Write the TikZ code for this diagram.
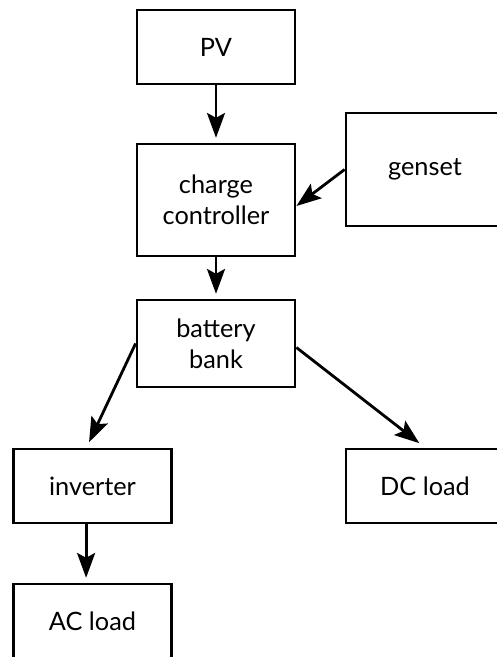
\documentclass[tikz,border=0pt]{standalone}
\usepackage{fontspec}
\setmainfont{Lato}
\usetikzlibrary{arrows.meta}

\begin{document}
\begin{tikzpicture}[
				block/.style={rectangle, draw, line width=2pt, minimum width=3.95cm, align=center, font=\fontsize{18}{22}\selectfont},
				flow/.style={line width=2pt, -{Stealth[length=0.62cm, width=0.45cm, inset=0.12cm]}}
				]
				
				\useasboundingbox (0,0) rectangle (12.4,-16.425);
				
				\node[block, minimum height=1.85cm] (pv) at (5.4, -1.175) {PV};
				\node[block, minimum height=2.8cm] (cc) at (5.4, -5.0) {charge\\controller};
				\node[block, minimum height=2.825cm] (genset) at (10.625, -4.2375) {genset};
				\node[block, minimum height=2.175cm] (bb) at (5.4, -8.5875) {battery\\bank};
				
				\node[block, minimum height=1.85cm] (inv) at (2.3125, -12.15) {inverter};
				\node[block, minimum height=1.85cm] (dc) at (10.625, -12.15) {DC load};
				\node[block, minimum height=1.85cm] (ac) at (2.3125, -15.525) {AC load};
				
				\foreach \a/\b in {pv/cc, cc/bb} {
					\draw[flow, shorten >=0.12cm] (\a) -- (\b);
				}
				\draw[flow] (genset.west) -- ([yshift=-0.15cm]cc.east);
				\draw[flow, shorten >=0.15cm] (bb.west) -- ([xshift=-0.15cm]inv.north);
				\draw[flow, shorten >=0.18cm] ([yshift=-0.1cm]bb.east) -- (dc.north);
				\draw[flow, shorten >=0.12cm] ([xshift=-0.16cm]inv.south) -- ([xshift=-0.16cm]ac.north);
			\end{tikzpicture}
\end{document}
